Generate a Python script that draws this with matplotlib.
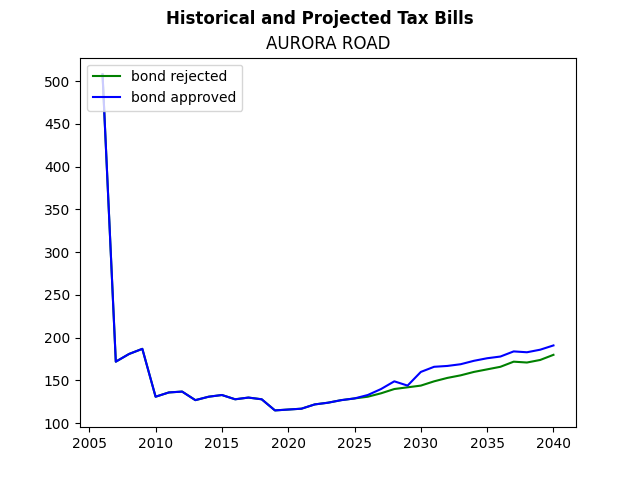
import matplotlib
matplotlib.use('Agg')
import matplotlib.pyplot as plt

years = list(range(2006, 2041))
history = [508, 172, 181, 187, 131, 136, 137, 127, 131, 133, 128, 130, 128,
           115, 116, 117, 122, 124, 127, 129]
rejected_future = [131, 135, 140, 142, 144, 149, 153, 156, 160, 163, 166,
                   172, 171, 174, 180]
approved_future = [133, 140, 149, 144, 160, 166, 167, 169, 173, 176, 178,
                   184, 183, 186, 191]

bond_rejected = history + rejected_future
bond_approved = history + approved_future

fig, ax = plt.subplots(figsize=(6.4, 4.8), dpi=100)
ax.plot(years, bond_rejected, color='green', label='bond rejected')
ax.plot(years, bond_approved, color='blue', label='bond approved')
ax.legend(loc='upper left')
ax.set_title('AURORA ROAD')
fig.suptitle('Historical and Projected Tax Bills', fontweight='bold')
fig.savefig('out.png')
